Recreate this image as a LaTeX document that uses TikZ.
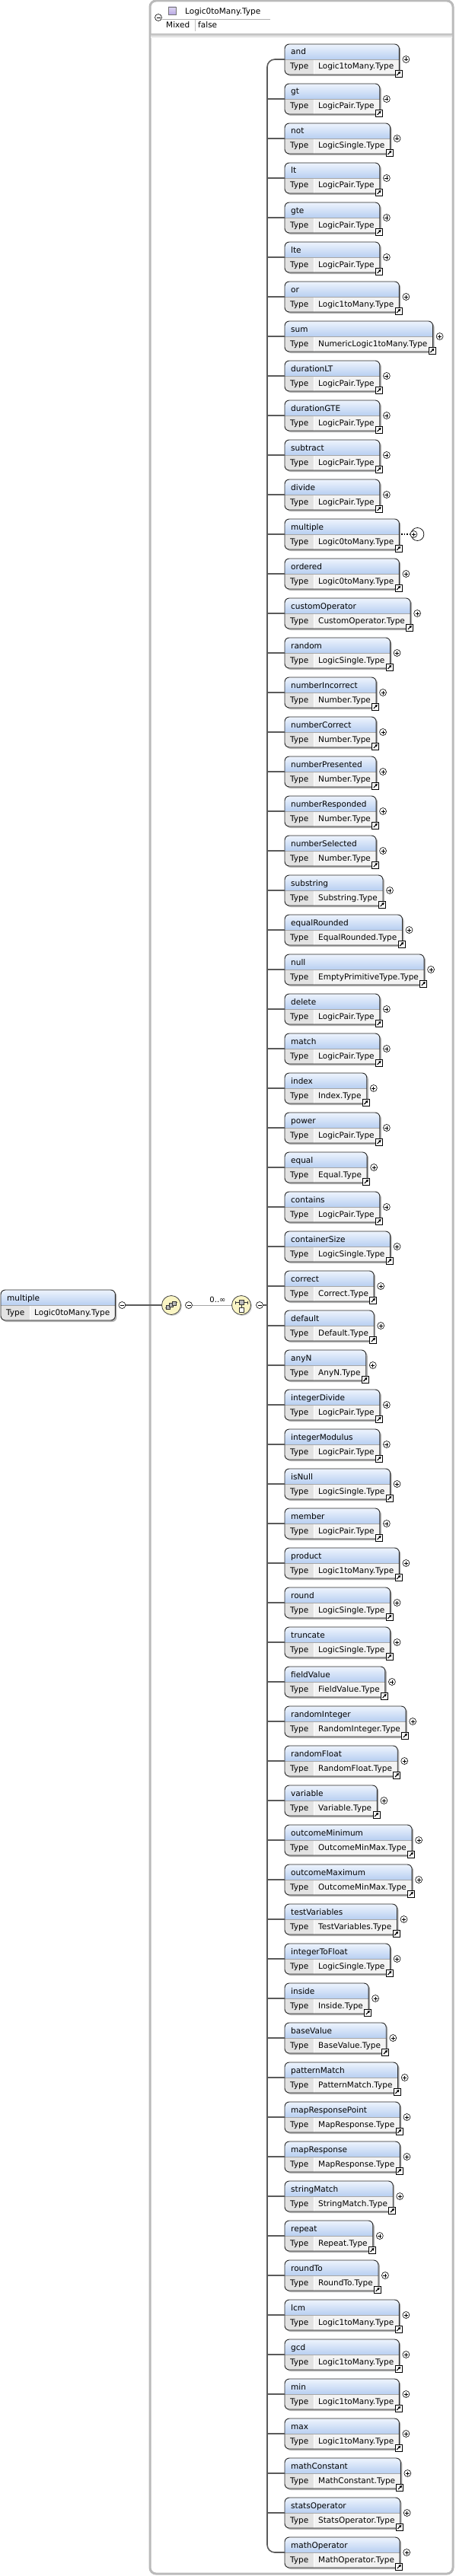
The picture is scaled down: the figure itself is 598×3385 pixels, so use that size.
\documentclass[tikz,border=0pt]{standalone}
\usepackage{fontspec}
\setmainfont{DejaVu Sans}
\usetikzlibrary{arrows.meta,shadows,backgrounds}
\definecolor{headtop}{RGB}{238,244,253}
\definecolor{headbot}{RGB}{184,207,241}
\definecolor{labgray}{RGB}{226,226,226}
\definecolor{valgray}{RGB}{243,243,243}
\definecolor{framegray}{RGB}{186,186,186}
\definecolor{busgray}{RGB}{90,90,90}
\definecolor{compyellow}{RGB}{250,245,196}
\definecolor{typepurple}{RGB}{184,168,228}

\newcommand{\elfont}{\fontsize{10.5}{12}\selectfont}
% element box: node name, left x, top y, element, type
\newcommand{\xelem}[5]{%
  \node[eltext] (#1) at (#2+8,#3+14) {#4};
  \node[eltext] (#1l) at (#2+7,#3+33) {Type};
  \node[eltext] (#1t) at (#2+44,#3+33) {#5};
  \path (#1.east); \pgfgetlastxy{\elxa}{\elya}%
  \path (#1t.east); \pgfgetlastxy{\elxb}{\elyb}%
  \pgfmathsetmacro{\elr}{max(\elxa,\elxb)+7}%
  \pgfmathsetmacro{\elm}{#3+20}%
  \pgfmathsetmacro{\elb}{#3+40}%
  \pgfmathsetmacro{\elt}{#2+38}%
  \begin{scope}[on background layer]
    \fill[boxshadow] (#2+2,#3+2) rectangle (\elr+2,\elb+2);
    \begin{scope}
      \clip[rounded corners=6pt] (#2,#3) rectangle (\elr,\elb);
      \fill[valgray] (#2,\elm) rectangle (\elr,\elb);
      \shade[top color=headtop, bottom color=headbot] (#2,#3) rectangle (\elr,\elm);
      \fill[labgray] (#2,\elm) rectangle (\elt,\elb);
      \draw[white, line width=1pt] (\elt,\elm) -- (\elt,\elb);
      \draw[black!35] (#2,\elm) -- (\elr,\elm);
    \end{scope}
  \end{scope}
  \draw[boxline] (#2,#3) rectangle (\elr,\elb);
  \coordinate (#1w) at (#2,\elm);
  \coordinate (#1e) at (\elr,\elm);
}

\begin{document}
\begin{tikzpicture}[x=1pt, y=-1pt,
    eltext/.style={anchor=base west, inner sep=0pt, font=\elfont},
    boxshadow/.style={fill=black!30, rounded corners=6pt},
    boxline/.style={draw=black!85, line width=0.9pt, rounded corners=6pt},
    busline/.style={draw=busgray, line width=1.6pt},
    thinline/.style={draw=black!35, line width=0.8pt},
    linkarrow/.style={-{Triangle[length=3pt,width=3.6pt]}, line width=1.1pt},
    plusc/.style={circle, draw, fill=white, inner sep=0pt, minimum size=9pt, line width=0.6pt,
      path picture={\draw[line width=0.6pt]
        ([xshift=-2.5pt]path picture bounding box.center) -- ([xshift=2.5pt]path picture bounding box.center)
        ([yshift=-2.5pt]path picture bounding box.center) -- ([yshift=2.5pt]path picture bounding box.center);}},
    minusc/.style={circle, draw, fill=white, inner sep=0pt, minimum size=9pt, line width=0.6pt,
      path picture={\draw[line width=0.6pt]
        ([xshift=-2.5pt]path picture bounding box.center) -- ([xshift=2.5pt]path picture bounding box.center);}},
    ringc/.style={circle, draw, inner sep=0pt, minimum size=17pt, line width=0.7pt},
    comp/.style={circle, draw=black!75, fill=compyellow, inner sep=0pt, minimum size=25pt, line width=0.8pt,
      drop shadow={shadow xshift=1.5pt, shadow yshift=-1.5pt, opacity=0.35}}]
    \useasboundingbox (0,0) rectangle (598,3385);

    % Frame of the type
    \draw[framegray, line width=3pt, rounded corners=8pt] (197,1) rectangle (595,3382);
    \node[minusc] (hdrm) at (208,23) {};
    \shade[top color=typepurple!45, bottom color=typepurple, draw=black!55] (221,9) rectangle (231,19);
    \node[eltext] (hdr) at (243,19) {Logic0toMany.Type};
    \draw[black!30] (213,25) -- (355,25);
    \node[eltext] (mixk) at (218,37) {Mixed};
    \draw[black!25] (256,26) -- (256,41);
    \node[eltext] (mixv) at (260,37) {false};
    \shade[top color=black!22, bottom color=white] (198,45) rectangle (594,50);

    % Root element
    \xelem{root}{1}{1695}{multiple}{Logic0toMany.Type}
    \node[minusc] (rootm) at (\elr+9,\elm) {};

    % Compositors
    \coordinate (bus) at (351,1715);
    \node[comp] (seq) at (225,1715) {};
    \node[minusc] (seqm) at (248,1715) {};
    \node[comp] (cho) at (317,1715) {};
    \node[minusc] (chom) at (341,1715) {};
    \draw[black!80, line width=0.6pt] ([shift={(-8pt,-4pt)}]seq.center) -- ([shift={(8pt,4pt)}]seq.center);
    \foreach \d in {-1,0,1}
      \filldraw[fill=gray!55, draw=black!80, line width=0.5pt]
        ([shift={(\d*4pt-2.5pt,\d*2.5pt-2.5pt)}]seq.center) rectangle ++(5pt,5pt);
    \draw[black!80, line width=0.6pt] ([shift={(-8pt,3.5pt)}]cho.center) -- ([shift={(8pt,3.5pt)}]cho.center)
      ([shift={(-8pt,1.5pt)}]cho.center) -- ([shift={(-8pt,5.5pt)}]cho.center)
      ([shift={(8pt,1.5pt)}]cho.center) -- ([shift={(8pt,5.5pt)}]cho.center)
      ([shift={(0pt,3.5pt)}]cho.center) -- ([shift={(0pt,-5pt)}]cho.center);
    \filldraw[fill=gray!55, draw=black!80, line width=0.5pt] ([shift={(-3pt,0.5pt)}]cho.center) rectangle ++(6pt,6pt);
    \filldraw[fill=white, draw=black!80, line width=0.5pt] ([shift={(-3pt,-9pt)}]cho.center) rectangle ++(6pt,6pt);

    \draw[busline] (rootm) -- (seq);
    \draw[thinline] (seqm) -- (cho);
    \node[anchor=base, inner sep=0pt, font=\fontsize{10}{12}\selectfont] (occ) at (286,1711) {0..∞};
    \draw[busline] (chom) -- (bus);

    % Children of the choice
    \foreach \nm/\tp [count=\i] in {and/Logic1toMany.Type, gt/LogicPair.Type, not/LogicSingle.Type,
        lt/LogicPair.Type, gte/LogicPair.Type, lte/LogicPair.Type, or/Logic1toMany.Type,
        sum/NumericLogic1toMany.Type, durationLT/LogicPair.Type, durationGTE/LogicPair.Type,
        subtract/LogicPair.Type, divide/LogicPair.Type, multiple/Logic0toMany.Type,
        ordered/Logic0toMany.Type, customOperator/CustomOperator.Type, random/LogicSingle.Type,
        numberIncorrect/Number.Type, numberCorrect/Number.Type, numberPresented/Number.Type,
        numberResponded/Number.Type, numberSelected/Number.Type, substring/Substring.Type,
        equalRounded/EqualRounded.Type, null/EmptyPrimitiveType.Type, delete/LogicPair.Type,
        match/LogicPair.Type, index/Index.Type, power/LogicPair.Type, equal/Equal.Type,
        contains/LogicPair.Type, containerSize/LogicSingle.Type, correct/Correct.Type,
        default/Default.Type, anyN/AnyN.Type, integerDivide/LogicPair.Type,
        integerModulus/LogicPair.Type, isNull/LogicSingle.Type, member/LogicPair.Type,
        product/Logic1toMany.Type, round/LogicSingle.Type, truncate/LogicSingle.Type,
        fieldValue/FieldValue.Type, randomInteger/RandomInteger.Type, randomFloat/RandomFloat.Type,
        variable/Variable.Type, outcomeMinimum/OutcomeMinMax.Type, outcomeMaximum/OutcomeMinMax.Type,
        testVariables/TestVariables.Type, integerToFloat/LogicSingle.Type, inside/Inside.Type,
        baseValue/BaseValue.Type, patternMatch/PatternMatch.Type, mapResponsePoint/MapResponse.Type,
        mapResponse/MapResponse.Type, stringMatch/StringMatch.Type, repeat/Repeat.Type,
        roundTo/RoundTo.Type, lcm/Logic1toMany.Type, gcd/Logic1toMany.Type, min/Logic1toMany.Type,
        max/Logic1toMany.Type, mathConstant/MathConstant.Type, statsOperator/StatsOperator.Type,
        mathOperator/MathOperator.Type}{
      \pgfmathtruncatemacro{\eltop}{58+52*(\i-1)}
      \xelem{c\i}{374}{\eltop}{\nm}{\tp}
      \draw[fill=white, line width=0.7pt] (\elr-5.5,\elb-6) rectangle (\elr+3.5,\elb+3);
      \draw[linkarrow] (\elr-3.3,\elb+1) -- (\elr+1.7,\elb-4);
      \ifnum\i=13
        \draw[line width=1.4pt, dotted] (\elr+3,\elm) -- (\elr+14,\elm);
        \node[ringc] (cr\i) at (\elr+24,\elm) {};
        \node[plusc] (cp\i) at (\elr+19,\elm) {};
      \else
        \node[plusc] (cp\i) at (\elr+9,\elm) {};
      \fi
      \ifnum\i>1 \ifnum\i<64 \draw[busline] (bus |- c\i w) -- (c\i w); \fi\fi
    }
    \draw[busline, rounded corners=10pt] (c1w) -| (bus) |- (c64w);
\end{tikzpicture}
\end{document}
